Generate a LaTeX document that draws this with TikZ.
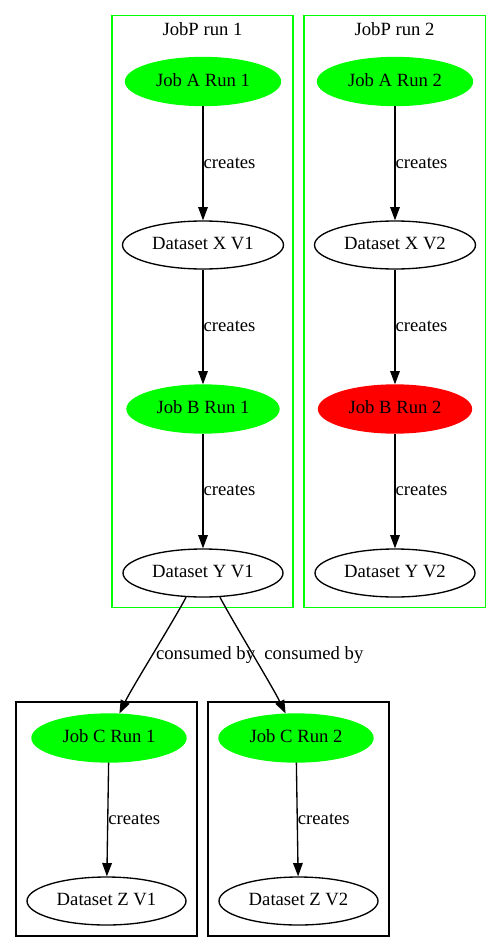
\documentclass[tikz,border=0pt]{standalone}
\usepackage{fontspec}
\setmainfont{Liberation Serif}
\usetikzlibrary{arrows.meta,shapes.geometric}
\definecolor{gvgreen}{RGB}{0,255,0}
\definecolor{gvred}{RGB}{255,0,0}
\begin{document}
\begin{tikzpicture}[x=1pt,y=1pt,
  font=\fontsize{18.67}{22}\selectfont,
  every node/.style={text height=13pt,text depth=3.5pt},
  gvnode/.style={ellipse, minimum height=48pt, inner sep=0pt, line width=1.33pt},
  plain/.style={gvnode, draw=black, fill=white},
  job/.style={gvnode, draw=gvgreen, fill=gvgreen},
  failjob/.style={gvnode, draw=gvred, fill=gvred},
  cluster/.style={draw=gvgreen, line width=1.33pt},
  clusterb/.style={draw=black, line width=1.33pt},
  edge/.style={line width=1.33pt, -{Triangle[length=13.3pt,width=9.6pt]}},
  elabel/.style={inner sep=0pt, anchor=west}
]
\useasboundingbox (0,0) rectangle (501,-952);

% clusters
\draw[cluster] (112,-15.7) rectangle (293,-607.5);
\draw[cluster] (304,-15.7) rectangle (485.5,-607.5);
\draw[clusterb] (16,-702) rectangle (197,-936);
\draw[clusterb] (208,-702) rectangle (389,-936);
\node[anchor=base] (cl1) at (202.5,-36) {JobP run 1};
\node[anchor=base] (cl2) at (394.5,-36) {JobP run 2};

% run 1
\node[job, minimum width=155pt] (jA1) at (203,-81.5) {Job A Run 1};
\node[plain, minimum width=161pt] (dX1) at (203,-245) {Dataset X V1};
\node[job, minimum width=152pt] (jB1) at (203,-409) {Job B Run 1};
\node[plain, minimum width=160pt] (dY1) at (203,-573) {Dataset Y V1};

% run 2
\node[job, minimum width=155pt] (jA2) at (395,-81.5) {Job A Run 2};
\node[plain, minimum width=161pt] (dX2) at (395,-245) {Dataset X V2};
\node[failjob, minimum width=153pt] (jB2) at (395,-409) {Job B Run 2};
\node[plain, minimum width=160pt] (dY2) at (395,-573) {Dataset Y V2};

% job C
\node[job, minimum width=154pt] (jC1) at (109,-738) {Job C Run 1};
\node[plain, minimum width=159pt] (dZ1) at (106.5,-901) {Dataset Z V1};
\node[job, minimum width=154pt] (jC2) at (296,-738) {Job C Run 2};
\node[plain, minimum width=159pt] (dZ2) at (298.5,-901) {Dataset Z V2};

% edges
\draw[edge] (jA1) -- (dX1) node[midway, elabel] {creates};
\draw[edge] (dX1) -- (jB1) node[midway, elabel] {creates};
\draw[edge] (jB1) -- (dY1) node[midway, elabel] {creates};
\draw[edge] (jA2) -- (dX2) node[midway, elabel] {creates};
\draw[edge] (dX2) -- (jB2) node[midway, elabel] {creates};
\draw[edge] (jB2) -- (dY2) node[midway, elabel] {creates};
\draw[edge] (jC1) -- (dZ1) node[midway, elabel] {creates};
\draw[edge] (jC2) -- (dZ2) node[midway, elabel] {creates};

\draw[edge] (dY1.-125) .. controls +(-118:30) and +(64:30) .. (jC1.67)
  node[pos=0.5, elabel, xshift=3pt] {consumed by};
\draw[edge] (dY1.-55) .. controls +(-62:30) and +(116:30) .. (jC2.113)
  node[pos=0.5, elabel, xshift=10.6pt] {consumed by};
\end{tikzpicture}
\end{document}
